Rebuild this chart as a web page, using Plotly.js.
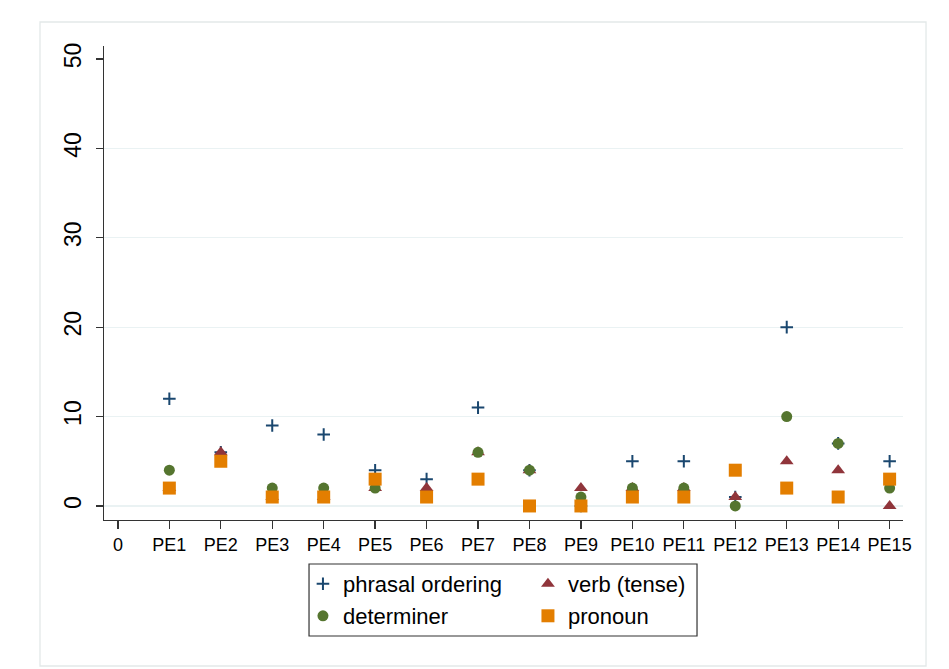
<!DOCTYPE html>
<html>
<head>
<meta charset="utf-8">
<script src="https://cdn.plot.ly/plotly-3.0.1.min.js"></script>
<style>html,body{margin:0;padding:0;background:#fff;}#chart{width:949px;height:669px;}</style>
</head>
<body>
<div id="chart"></div>
<script>
// ---- data ----
var xTickLabels = ["0","PE1","PE2","PE3","PE4","PE5","PE6","PE7","PE8","PE9","PE10","PE11","PE12","PE13","PE14","PE15"];
var categories  = ["PE1","PE2","PE3","PE4","PE5","PE6","PE7","PE8","PE9","PE10","PE11","PE12","PE13","PE14","PE15"];
var phrasalOrdering = [12, 6, 9, 8, 4, 3, 11, 4, 0, 5, 5, 1, 20, 7, 5];
var verbTense       = [ 2, 6, 1, 1, 2, 2,  6, 4, 2, 2, 2, 1,  5, 4, 0];
var determiner      = [ 4, 5, 2, 2, 2, 1,  6, 4, 1, 2, 2, 0, 10, 7, 2];
var pronoun         = [ 2, 5, 1, 1, 3, 1,  3, 0, 0, 1, 1, 4,  2, 1, 3];
var yTickVals  = [0, 10, 20, 30, 40, 50];
var yGridVals  = [0, 10, 20, 30, 40];
var seriesNames = ["phrasal ordering", "verb (tense)", "determiner", "pronoun"];

// ---- styling ----
var FONT = "Liberation Sans, Arial, Helvetica, sans-serif";
var navy = "#1a476f", maroon = "#90353b", green = "#55752f", orange = "#e37e00";
var yRange = [-1.57, 51.45];
var xRange = [-0.27, 15.26];

var traces = [
  {x: categories, y: phrasalOrdering, name: seriesNames[0], type: "scatter", mode: "markers",
   marker: {symbol: "cross-thin", size: 9, color: navy, line: {color: navy, width: 2}}, legend: "legend"},
  {x: categories, y: verbTense, name: seriesNames[1], type: "scatter", mode: "markers",
   marker: {symbol: "triangle-up", size: 12, color: maroon, line: {width: 0}}, legend: "legend"},
  {x: categories, y: determiner, name: seriesNames[2], type: "scatter", mode: "markers",
   marker: {symbol: "circle", size: 11, color: green, line: {width: 0}}, legend: "legend2"},
  {x: categories, y: pronoun, name: seriesNames[3], type: "scatter", mode: "markers",
   marker: {symbol: "square", size: 13, color: orange, line: {width: 0}}, legend: "legend2"},
  {x: [], y: [], yaxis: "y2", type: "scatter", mode: "markers", showlegend: false, hoverinfo: "skip"}
];

var legendCommon = {
  orientation: "h", xanchor: "left", yanchor: "middle", x: 0.249,
  entrywidth: 180, entrywidthmode: "pixels",
  font: {family: FONT, size: 22, color: "#000"},
  bgcolor: "rgba(0,0,0,0)", borderwidth: 0, tracegroupgap: 0
};

var layout = {
  width: 949, height: 669,
  margin: {l: 104, r: 46, t: 46, b: 149, autoexpand: false},
  paper_bgcolor: "#fff", plot_bgcolor: "#fff",
  font: {family: FONT, color: "#000"},
  showlegend: true,
  xaxis: {
    type: "category", categoryorder: "array", categoryarray: xTickLabels,
    range: xRange, showgrid: false, zeroline: false,
    showline: true, linecolor: "#333", linewidth: 1.3,
    ticks: "outside", ticklen: 8, tickcolor: "#333", tickwidth: 1.3,
    tickfont: {family: FONT, size: 18, color: "#000"}
  },
  yaxis: {
    range: yRange, tickmode: "array", tickvals: yGridVals,
    showgrid: true, gridcolor: "#eaf2f3", gridwidth: 1.3,
    showticklabels: false, ticks: "", zeroline: false, showline: false
  },
  yaxis2: {
    overlaying: "y", anchor: "x", side: "left",
    range: yRange, tickmode: "array", tickvals: yTickVals,
    showgrid: false, zeroline: false,
    showline: true, linecolor: "#333", linewidth: 1.3,
    ticks: "outside", ticklen: 7, tickcolor: "#333", tickwidth: 1.3,
    tickangle: -90, ticklabelstandoff: 6,
    tickfont: {family: FONT, size: 23, color: "#000"}
  },
  legend: Object.assign({}, legendCommon, {y: -0.135}),
  legend2: Object.assign({}, legendCommon, {y: -0.2025}),
  shapes: [
    {type: "rect", xref: "paper", yref: "paper", x0: -0.0801, x1: 1.0288, y0: -0.308, y1: 1.0506,
     line: {color: "#e3e9e9", width: 1.3}, fillcolor: "rgba(0,0,0,0)", layer: "below"},
    {type: "rect", xref: "paper", yref: "paper", x0: 0.2566, x1: 0.7422, y0: -0.2447, y1: -0.0928,
     line: {color: "#333", width: 1.2}, fillcolor: "rgba(0,0,0,0)", layer: "below"}
  ]
};

Plotly.newPlot("chart", traces, layout, {displayModeBar: false, staticPlot: true});
</script>
</body>
</html>
